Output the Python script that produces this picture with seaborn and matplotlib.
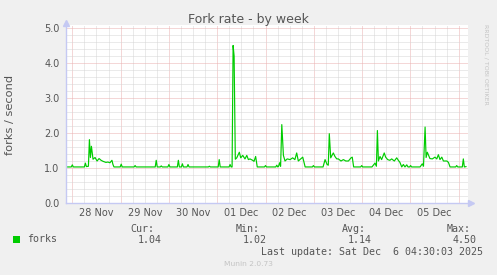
import numpy as np
import pandas as pd
import matplotlib
matplotlib.use('Agg')
import matplotlib.pyplot as plt
import matplotlib.dates as mdates
from matplotlib.patches import Rectangle
from matplotlib.ticker import FixedLocator, FuncFormatter
import seaborn as sns

# ---- data (hours since 2025-11-28 00:00, fork rate) ----
hours = [-3.5, -0.5, 0.0, 0.5, 6.0, 6.5, 7.0, 8.0, 8.5, 9.0, 9.5, 10.3, 11.3, 12.3, 13.3,
         14.3, 15.3, 16.7, 17.7, 18.7, 19.7, 20.2, 20.7, 23.8, 24.3, 24.8, 30.7, 31.2, 31.7,
         41.2, 41.7, 42.2, 43.7, 44.2, 44.7, 47.5, 48.0, 48.5, 52.2, 52.7, 53.2, 54.2, 54.7,
         55.2, 57.0, 57.5, 58.0, 67.6, 68.1, 68.6, 72.5, 73.0, 73.5, 77.9, 78.4, 78.9, 79.4,
         79.9, 80.4, 81.0, 81.7, 83.0, 83.7, 84.7, 85.8, 86.7, 87.5, 88.3, 89.6, 90.3, 91.1,
         91.9, 95.5, 96.0, 96.5, 101.1, 101.6, 102.1, 102.5, 103.0, 103.5, 104.1, 104.9,
         105.7, 106.8, 108.2, 109.5, 110.6, 111.5, 112.3, 113.5, 114.5, 115.2, 115.7, 119.3,
         119.8, 120.3, 124.6, 125.6, 126.6, 127.2, 127.7, 128.4, 129.7, 130.5, 131.4, 132.2,
         133.5, 134.7, 135.9, 137.2, 138.5, 139.1, 139.8, 143.3, 143.8, 144.3, 148.9, 150.4,
         151.1, 151.6, 152.1, 152.9, 153.7, 155.0, 155.7, 156.7, 157.8, 158.7, 160.0, 161.2,
         162.0, 162.8, 163.7, 164.5, 165.3, 166.2, 166.8, 167.6, 168.1, 168.6, 172.8, 173.9,
         174.5, 175.3, 175.8, 176.4, 177.7, 178.9, 180.2, 181.1, 181.9, 182.7, 183.6, 184.4,
         186.1, 186.9, 187.7, 190.5, 191.0, 191.5, 193.8, 194.3, 194.8, 195.7]
forks = [1.03, 1.03, 1.09, 1.03, 1.03, 1.14, 1.04, 1.05, 1.81, 1.30, 1.62, 1.25, 1.30, 1.20, 1.27,
         1.22, 1.19, 1.16, 1.17, 1.15, 1.22, 1.10, 1.03, 1.03, 1.11, 1.03, 1.03, 1.07, 1.03,
         1.03, 1.22, 1.03, 1.03, 1.06, 1.03, 1.03, 1.10, 1.03, 1.03, 1.22, 1.03, 1.03, 1.12,
         1.03, 1.03, 1.10, 1.03, 1.03, 1.05, 1.03, 1.03, 1.24, 1.03, 1.03, 1.10, 1.03, 1.03,
         4.50, 4.20, 1.25, 1.29, 1.45, 1.29, 1.36, 1.26, 1.36, 1.24, 1.26, 1.22, 1.19, 1.33,
         1.03, 1.03, 1.07, 1.03, 1.03, 1.08, 1.03, 1.05, 1.15, 1.05, 2.24, 1.36,
         1.20, 1.26, 1.24, 1.29, 1.24, 1.43, 1.20, 1.26, 1.31, 1.15, 1.03, 1.03,
         1.07, 1.03, 1.03, 1.24, 1.10, 1.08, 1.98, 1.29, 1.43, 1.33, 1.26, 1.26,
         1.20, 1.24, 1.20, 1.20, 1.29, 1.31, 1.03, 1.03, 1.07, 1.03, 1.03, 1.14,
         1.05, 2.07, 1.20, 1.33, 1.24, 1.43, 1.31, 1.24, 1.22, 1.26, 1.20, 1.29,
         1.22, 1.16, 1.03, 1.10, 1.03, 1.09, 1.03, 1.03, 1.07, 1.03, 1.03, 1.12,
         1.05, 2.17, 1.30, 1.45, 1.27, 1.26, 1.31, 1.26, 1.38, 1.24, 1.31, 1.20,
         1.20, 1.16, 1.03, 1.03, 1.07, 1.03, 1.03, 1.26, 1.03, 1.04]
day_labels = ['28 Nov', '29 Nov', '30 Nov', '01 Dec', '02 Dec', '03 Dec', '04 Dec', '05 Dec']
y_ticks = [0.0, 1.0, 2.0, 3.0, 4.0, 5.0]
series_name = 'forks'
stat_names = ['Cur:', 'Min:', 'Avg:', 'Max:']
stat_values = ['1.04', '1.02', '1.14', '4.50']
last_update = 'Last update: Sat Dec  6 04:30:03 2025'

t0 = pd.Timestamp('2025-11-28 00:00')
df = pd.DataFrame({'time': t0 + pd.to_timedelta(hours, unit='h'), 'forks': forks})

sns.set_style('white')
plt.rcParams['font.family'] = ['DejaVu Sans']

W, H = 497, 275
BG = '#f0f0f0'
GRID_MIN = '#d6d6d6'
GRID_MAJ = '#ebb0b0'
AXIS_C = '#c5c9f3'
TXT = '#555555'

fig = plt.figure(figsize=(W / 100, H / 100), dpi=100, facecolor=BG)
ax = fig.add_axes([66 / W, (H - 203) / H, (468 - 66) / W, (203 - 25) / H])
ax.set_facecolor('white')

sns.lineplot(data=df, x='time', y='forks', ax=ax, color='#00cc00', linewidth=0.85,
             estimator=None, legend=False, zorder=5)

# limits
xmin = t0 + pd.Timedelta(hours=(66 - 72.3) / 48.3 * 24)
xmax = t0 + pd.Timedelta(hours=(468 - 72.3) / 48.3 * 24)
ax.set_xlim(mdates.date2num(xmin), mdates.date2num(xmax))
ax.set_ylim(0, (203 - 25) / 35)

# grid lines (dotted)
six_h = pd.date_range(t0, t0 + pd.Timedelta(days=8), freq='6h')
for t in six_h:
    if mdates.date2num(t) > mdates.date2num(xmax):
        continue
    col = GRID_MAJ if t.hour == 0 else GRID_MIN
    ax.axvline(mdates.date2num(t), color=col, lw=0.72, ls=(0, (1, 1)), zorder=1)
for v in np.arange(0.2, 5.01, 0.2):
    col = GRID_MAJ if abs(v - round(v)) < 1e-6 else GRID_MIN
    ax.axhline(v, color=col, lw=0.72, ls=(0, (1, 1)), zorder=1)

# x ticks: major at midnight (red marks), minor every 6h, labels at noon
midn = [mdates.date2num(t) for t in six_h if t.hour == 0 and t <= xmax]
others = [t for t in six_h if t.hour != 0 and t <= xmax]
ax.xaxis.set_major_locator(FixedLocator(midn))
ax.xaxis.set_major_formatter(FuncFormatter(lambda v, p: ''))
ax.xaxis.set_minor_locator(FixedLocator([mdates.date2num(t) for t in others]))
noon_map = {}
for i, lab in enumerate(day_labels):
    noon_map[round(mdates.date2num(t0 + pd.Timedelta(days=i, hours=12)), 4)] = lab
ax.xaxis.set_minor_formatter(FuncFormatter(lambda v, p: noon_map.get(round(v, 4), '')))
ax.tick_params(axis='x', which='major', length=1.6, width=0.7, color=GRID_MAJ, direction='out')
ax.tick_params(axis='x', which='minor', length=1.6, width=0.7, color=GRID_MIN, direction='out',
               labelsize=7, labelcolor=TXT, pad=2.2)

# y ticks
ax.yaxis.set_major_locator(FixedLocator(y_ticks))
ax.yaxis.set_major_formatter(FuncFormatter(lambda v, p: f'{v:.1f}'))
ax.yaxis.set_minor_locator(FixedLocator([v for v in np.arange(0.2, 5.01, 0.2)
                                         if abs(v - round(v)) > 1e-6]))
ax.tick_params(axis='y', which='major', length=1.6, width=0.7, color=GRID_MAJ, direction='out',
               labelsize=7, labelcolor=TXT, pad=3.0)
ax.tick_params(axis='y', which='minor', length=1.6, width=0.7, color=GRID_MIN, direction='out')

ax.set_xlabel('')
ax.set_ylabel('')
for s in ['top', 'right']:
    ax.spines[s].set_visible(False)
for s in ['left', 'bottom']:
    ax.spines[s].set_color(AXIS_C)
    ax.spines[s].set_linewidth(1.0)
    ax.spines[s].set_zorder(6)

# axis arrows
ax.plot([0], [1.012], marker='^', ms=4, color=AXIS_C, transform=ax.transAxes, clip_on=False)
ax.plot([1.007], [0], marker='>', ms=4, color=AXIS_C, transform=ax.transAxes, clip_on=False)

def fx(x):
    return x / W

def fy(y):
    return 1 - y / H

fig.text(fx(248.5), fy(19), 'Fork rate - by week', ha='center', va='center', fontsize=9, color=TXT)
fig.text(fx(10), fy(115), 'forks / second', ha='center', va='center', rotation=90,
         fontsize=8.2, color=TXT)
fig.text(fx(486), fy(64), 'RRDTOOL / TOBI OETIKER', ha='center', va='center', rotation=-90,
         fontsize=4.5, color='#c4c4c4')

# legend
fig.patches.append(Rectangle((fx(13), fy(243)), 7 / W, 7 / H, transform=fig.transFigure,
                             facecolor='#00cc00', edgecolor='none'))
mono = 'DejaVu Sans Mono'
fig.text(fx(27), fy(239.5), series_name, ha='left', va='center', family=mono, fontsize=7.2,
         color=TXT)
name_right = [154.5, 260, 365.5, 470.5]
val_right = [161.5, 267, 372, 477]
for nm, vl, xn, xv in zip(stat_names, stat_values, name_right, val_right):
    fig.text(fx(xn), fy(228.5), nm, ha='right', va='center', family=mono, fontsize=7.2, color=TXT)
    fig.text(fx(xv), fy(239.8), vl, ha='right', va='center', family=mono, fontsize=7.2, color=TXT)
fig.text(fx(483), fy(251.8), last_update, ha='right', va='center', family=mono, fontsize=7.2,
         color=TXT)
fig.text(fx(248), fy(264.5), 'Munin 2.0.73', ha='center', va='center', fontsize=5.4,
         color='#c4c4c4')

fig.savefig('out.png', dpi=100, facecolor=BG)
